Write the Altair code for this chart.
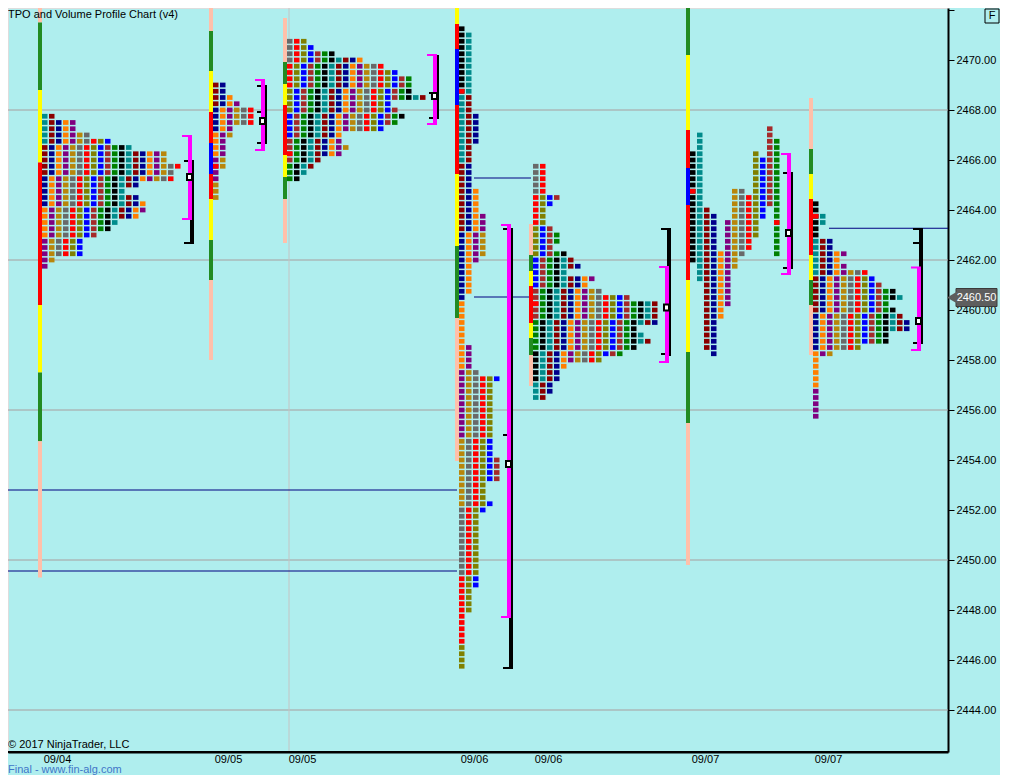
import altair as alt
import pandas as pd

TICK = 0.25
PALETTE = ["#008B8B", "#8B0000", "#00008B", "#FF7F00", "#800080", "#B8860B",
           "#696969", "#FF0000", "#808000", "#0000FF", "#A52A2A", "#008000", "#000000"]
BAR_COLOR = {"salmon": "#FFC0AA", "green": "#228B22", "yellow": "#FFFF00",
             "red": "#FF0000", "blue": "#0000FF"}
FONT = "Liberation Sans"

# ---------------- data ----------------
session_labels = ["09/04", "09/05", "09/05", "09/06", "09/06", "09/07", "09/07"]
profile_start = [42, 213, 287, 459, 533, 690, 813]

# collapsed TPO profiles: top price and number of TPO cells per row (top -> bottom)
p1_top = 2467.75
p1_rows = [2, 5, 5, 7, 10, 13, 18, 18, 20, 19, 19, 14, 12, 14, 15, 15, 14, 11, 10, 8,
           6, 6, 6, 2, 1]
p2_top = 2469.0
p2_rows = [2, 2, 3, 4, 6, 6, 6, 3, 3, 2, 2, 2, 2, 2, 1, 1, 1, 1, 1]
p3_top = 2470.75
p3_rows = [3, 4, 7, 11, 14, 16, 18, 18, 18, 20, 15, 16, 17, 16, 14, 8, 8, 9, 8, 5, 4, 3, 2]
p4_top = 2471.25
p4_rows = [1, 2, 2, 2, 2, 2, 2, 2, 2, 2, 2, 2, 2, 2, 3, 3, 3, 3, 3, 2, 2, 2, 2, 2,
           2, 2, 3, 3, 3, 3, 4, 4, 4, 4, 4, 4, 4, 3, 2, 2, 2, 2, 2, 1, 1, 1, 1, 1,
           1, 1, 1, 2, 2, 2, 2, 3, 6, 5, 5, 5, 5, 5, 5, 5, 5, 5, 5, 5, 5, 6, 6, 6,
           6, 4, 4, 4, 5, 4, 3, 3, 3, 3, 3, 3, 3, 3, 3, 3, 3, 3, 2, 2, 2, 2, 1, 1,
           1, 1, 1, 1, 1, 1, 1]
p5_top = 2465.75
p5_rows = [2, 2, 2, 2, 2, 4, 3, 2, 2, 2, 3, 4, 4, 3, 5, 6, 7, 5, 9, 8, 10, 14, 18, 18,
           18, 18, 15, 16, 17, 15, 13, 10, 5, 4, 4, 3, 3, 2]
p7_top = 2464.25
p7_rows = [1, 1, 2, 2, 1, 1, 3, 3, 5, 4, 5, 8, 9, 10, 12, 13, 11, 12, 13, 14, 14, 11,
           11, 7, 3, 1, 1, 1, 1, 1, 1, 1, 1, 1, 1]
# split profile (09/07 first session): each period column high / low
p6_high = [2466.25, 2467.0, 2464.0, 2463.75, 2462.25, 2463.5, 2464.75, 2464.75, 2464.5,
           2466.25, 2466.0, 2467.25, 2466.75]
p6_low = [2462.0, 2461.25, 2458.5, 2458.25, 2459.75, 2460.25, 2461.75, 2462.25, 2462.5,
          2463.0, 2463.75, 2464.25, 2462.25]

# red open markers (profile index, column, price)
marker_profile = [1, 2, 3, 4, 5, 5, 6]
marker_col = [0, 0, 0, 0, 0, 12, 0]
marker_price = [2465.75, 2466.25, 2468.75, 2460.25, 2464.75, 2463.5, 2463.75]

# thin range bar segments at the left of each profile
bar_edges = [
    [2472.2, 2471.5, 2468.8, 2465.9, 2460.2, 2457.5, 2454.75, 2449.3],
    [2472.2, 2471.16, 2469.56, 2467.92, 2466.68, 2465.44, 2464.44, 2462.8, 2461.2, 2458.0],
    [2471.68, 2469.92, 2469.04, 2468.2, 2466.2, 2465.32, 2464.44, 2462.68],
    [2472.2, 2471.44, 2470.44, 2468.2, 2465.44, 2462.56, 2459.68, 2453.96],
    [2463.44, 2462.2, 2461.56, 2460.96, 2459.48, 2458.88, 2458.2, 2456.96],
    [2472.2, 2470.2, 2467.2, 2465.68, 2464.2, 2461.2, 2458.32, 2455.48, 2449.8],
    [2468.48, 2466.44, 2465.44, 2464.44, 2462.2, 2461.2, 2460.2, 2458.2],
]
bar_colors = [
    ["salmon", "green", "yellow", "red", "yellow", "green", "salmon"],
    ["salmon", "green", "yellow", "red", "blue", "red", "yellow", "green", "salmon"],
    ["salmon", "green", "yellow", "red", "yellow", "green", "salmon"],
    ["yellow", "red", "blue", "red", "yellow", "green", "salmon"],
    ["salmon", "green", "yellow", "red", "yellow", "green", "salmon"],
    ["green", "yellow", "red", "blue", "red", "yellow", "green", "salmon"],
    ["salmon", "green", "yellow", "red", "yellow", "green", "salmon"],
]

# value area (magenta), black range bracket, POC
va_high = [2466.96, 2469.2, 2470.2, 2463.4, 2461.72, 2466.24, 2461.7]
va_low = [2463.64, 2466.4, 2467.44, 2447.72, 2457.92, 2461.44, 2458.4]
ib_high = [2465.96, 2468.96, 2470.2, 2463.24, 2463.24, 2465.48, 2463.24]
ib_low = [2462.68, 2466.64, 2467.64, 2445.68, 2458.16, 2461.64, 2458.68]
ib_ticks = [
    [2465.96, 2462.68],
    [2468.96, 2467.92, 2466.68],
    [2468.68, 2467.68],
    [2463.24, 2455.0, 2445.68],
    [2463.24, 2458.24],
    [2465.48, 2461.68],
    [2463.24, 2462.68, 2458.68],
]
poc_price = [2465.32, 2467.56, 2468.56, 2453.84, 2460.1, 2463.08, 2459.56]

# naked level lines
level_price = [2452.8, 2449.56, 2465.28, 2460.52, 2463.27]
level_from = [8, 8, 474, 474, 829]
level_to = [457, 457, 531, 531, 948]

grid_prices = [2444, 2450, 2456, 2462, 2468]
session_break = [289]
price_ticks = [2444, 2446, 2448, 2450, 2452, 2454, 2456, 2458, 2460, 2462, 2464,
               2466, 2468, 2470, 2472]
last_price = 2460.5

# ---------------- build tables ----------------
PITCH = 7
CELL_W = 5.5
HALF_H = 0.095
W, H = 940, 744

collapsed = [
    (0, p1_top, p1_rows, 0, 5),
    (1, p2_top, p2_rows, 1, 4),
    (2, p3_top, p3_rows, 6, 4),
    (3, p4_top, p4_rows, 12, 11),
    (4, p5_top, p5_rows, 6, 5),
    (6, p7_top, p7_rows, 12, 6),
]

cells = []
widths = {}
for pi, top, rows, base, drift in collapsed:
    s = profile_start[pi]
    widths[pi] = max(rows)
    for r, n in enumerate(rows):
        price = top - TICK * r
        first = base + r // drift
        for c in range(n):
            cells.append(dict(x=s + PITCH * c, x2=s + PITCH * c + CELL_W,
                              yt=price + HALF_H, yb=price - HALF_H,
                              color=PALETTE[(first + c) % 13]))
s6 = profile_start[5]
widths[5] = len(p6_high)
for c, (hi, lo) in enumerate(zip(p6_high, p6_low)):
    n = int(round((hi - lo) / TICK)) + 1
    for k in range(n):
        price = hi - TICK * k
        cells.append(dict(x=s6 + PITCH * c, x2=s6 + PITCH * c + CELL_W,
                          yt=price + HALF_H, yb=price - HALF_H,
                          color=PALETTE[(12 + c) % 13]))
cells_df = pd.DataFrame(cells)

markers_df = pd.DataFrame([
    dict(x=profile_start[p] + PITCH * c, x2=profile_start[p] + PITCH * c + CELL_W,
         yt=pr + HALF_H, yb=pr - HALF_H)
    for p, c, pr in zip(marker_profile, marker_col, marker_price)
])

bars = []
for pi, (edges, cols) in enumerate(zip(bar_edges, bar_colors)):
    s = profile_start[pi]
    for k, cname in enumerate(cols):
        bars.append(dict(x=s - 4, x2=s, yt=edges[k], yb=edges[k + 1], color=BAR_COLOR[cname]))
bars_df = pd.DataFrame(bars)

brk = [profile_start[i] + PITCH * widths[i] + 6 for i in range(7)]
ib_df = pd.DataFrame(dict(x=[b + 4 for b in brk], yt=ib_high, yb=ib_low))
ib_tick_df = pd.DataFrame([dict(x=brk[i] - 4, x2=brk[i] + 6, y=t)
                           for i in range(7) for t in ib_ticks[i]])
va_df = pd.DataFrame(dict(x=[b + 2 for b in brk], yt=va_high, yb=va_low))
va_tick_df = pd.DataFrame([dict(x=brk[i] - 6, x2=brk[i] + 4, y=t)
                           for i in range(7) for t in (va_high[i], va_low[i])])
poc_df = pd.DataFrame(dict(x=[b - 1 for b in brk], x2=[b + 4 for b in brk],
                           yt=[p + 0.12 for p in poc_price], yb=[p - 0.12 for p in poc_price]))
levels_df = pd.DataFrame(dict(x=level_from, x2=level_to, y=level_price))
grid_df = pd.DataFrame(dict(y=grid_prices))
break_df = pd.DataFrame(dict(x=session_break))
dates_df = pd.DataFrame(dict(x=[s + 15.5 for s in profile_start], t=session_labels))
tag_df = pd.DataFrame(dict(y=[last_price], yt=[last_price + 0.36], yb=[last_price - 0.36],
                           t=[f"{last_price:.2f}"]))

Y_TOP = 2472.08
XS = alt.Scale(domain=[8, 948], nice=False, zero=False)
YS = alt.Scale(domain=[Y_TOP - H / 25.0, Y_TOP], nice=False, zero=False)
XA = alt.Axis(labels=False, ticks=False, grid=False, title=None,
              domainColor="black", domainWidth=2)
YA = alt.Axis(orient="right", values=price_ticks, grid=False, title=None,
              labelExpr="datum.value > 2471 ? '' : format(datum.value, '.2f')",
              tickSize=6, tickColor="black", tickWidth=1, domainColor="black", domainWidth=2,
              labelFont=FONT, labelFontSize=11, labelColor="black", labelPadding=2)


def X(f):
    return alt.X(f, scale=XS, axis=XA)


def Y(f):
    return alt.Y(f, scale=YS, axis=YA)


def rect_layer(df, **mark):
    return alt.Chart(df).mark_rect(**mark).encode(
        x=X("x:Q"), x2="x2:Q", y=Y("yt:Q"), y2="yb:Q")


grid_layer = alt.Chart(grid_df).mark_rule(color="#A89E9E", strokeWidth=1).encode(y=Y("y:Q"))
break_layer = alt.Chart(break_df).mark_rule(color="#C4C4C4", strokeWidth=1).encode(x=X("x:Q"))
levels_layer = alt.Chart(levels_df).mark_rule(color="#000080", strokeWidth=1).encode(
    x=X("x:Q"), x2="x2:Q", y=Y("y:Q"))

bars_layer = rect_layer(bars_df).encode(color=alt.Color("color:N", scale=None))
cells_layer = rect_layer(cells_df).encode(color=alt.Color("color:N", scale=None))
markers_layer = rect_layer(markers_df, color="#FF0000")

ib_layer = alt.Chart(ib_df).mark_rule(color="black", strokeWidth=4).encode(
    x=X("x:Q"), y=Y("yt:Q"), y2="yb:Q")
ib_tick_layer = alt.Chart(ib_tick_df).mark_rule(color="black", strokeWidth=2).encode(
    x=X("x:Q"), x2="x2:Q", y=Y("y:Q"))
va_layer = alt.Chart(va_df).mark_rule(color="#FF00FF", strokeWidth=4).encode(
    x=X("x:Q"), y=Y("yt:Q"), y2="yb:Q")
va_tick_layer = alt.Chart(va_tick_df).mark_rule(color="#FF00FF", strokeWidth=2).encode(
    x=X("x:Q"), x2="x2:Q", y=Y("y:Q"))
poc_layer = rect_layer(poc_df, fill="white", stroke="black", strokeWidth=2)

# bottom axis line
base_line = alt.Chart(pd.DataFrame(dict(t=[0]))).mark_rule(color="black", strokeWidth=2).encode(
    x=alt.value(0), x2=alt.value(W), y=alt.value(H))

dates_layer = alt.Chart(dates_df).mark_text(
    font=FONT, fontSize=11, color="black", baseline="middle", align="center").encode(
    x=X("x:Q"), y=alt.value(H + 8), text="t:N")


def note(txt, x, y, color="black", align="left", size=11):
    return alt.Chart(pd.DataFrame(dict(t=[txt]))).mark_text(
        font=FONT, fontSize=size, color=color, align=align, baseline="middle").encode(
        x=alt.value(x), y=alt.value(y), text="t:N")


title_layer = note("TPO and Volume Profile Chart (v4)", 0, 7)
copy_layer = note("\u00a9 2017 NinjaTrader, LLC", 0, H - 7)
final_layer = note("Final - www.fin-alg.com", 0, H + 18, color="#3F76C8")

tag_box = alt.Chart(tag_df).mark_rect(fill="#5E5E5E", stroke="#3A3A3A", strokeWidth=1).encode(
    x=alt.value(948), x2=alt.value(989), y=Y("yt:Q"), y2="yb:Q")
tag_arrow = alt.Chart(tag_df).mark_point(shape="triangle-left", filled=True, fill="#5E5E5E",
                                         stroke="#5E5E5E", size=90, opacity=1).encode(
    x=alt.value(945), y=Y("y:Q"))
tag_text = alt.Chart(tag_df).mark_text(font=FONT, fontSize=11, color="white",
                                       align="center", baseline="middle").encode(
    x=alt.value(968.5), y=Y("y:Q"), text="t:N")

fbox = alt.Chart(pd.DataFrame(dict(t=["F"]))).mark_rect(fill="#AFEEEE", stroke="black",
                                                        strokeWidth=1).encode(
    x=alt.value(977), x2=alt.value(991), y=alt.value(1), y2=alt.value(15))
ftext = note("F", 984, 8, align="center", size=11)

chart = alt.layer(
    grid_layer, break_layer, levels_layer, cells_layer, bars_layer, markers_layer,
    ib_layer, ib_tick_layer, va_layer, va_tick_layer, poc_layer, base_line,
    dates_layer, title_layer, copy_layer, final_layer,
    tag_box, tag_arrow, tag_text, fbox, ftext,
).properties(
    width=W, height=H, background="#AFEEEE",
    padding={"left": 0, "top": 0, "right": 52, "bottom": 23},
    autosize=alt.AutoSizeParams(type="none"),
).configure_view(stroke=None).configure(font=FONT)

chart.save("out.html", embed_options={"renderer": "svg", "actions": False})
